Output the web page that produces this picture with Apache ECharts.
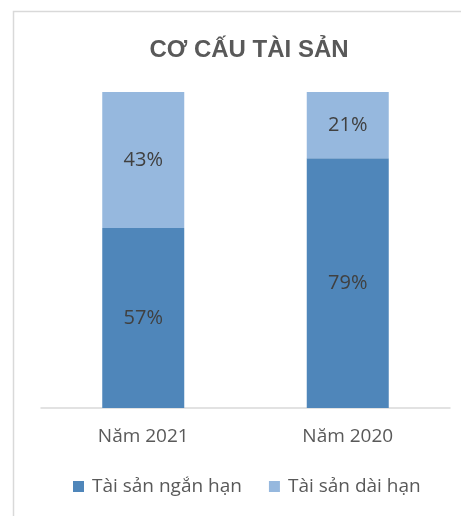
<!DOCTYPE html>
<html><head><meta charset="utf-8">
<script src="https://cdn.jsdelivr.net/npm/echarts@6/dist/echarts.min.js"></script>
<style>html,body{margin:0;padding:0;background:#fff}#c{width:461px;height:516px}</style>
</head><body><div id="c"></div>
<script>
const categories = ['Năm 2021', 'Năm 2020'];
const shortTerm = [57, 79];
const longTerm = [43, 21];
const seriesNames = ['Tài sản ngắn hạn', 'Tài sản dài hạn'];
const FONT = '"Open Sans", "Noto Sans", sans-serif';
const chart = echarts.init(document.getElementById('c'), null, {renderer: 'canvas'});
chart.setOption({
  animation: false,
  graphic: [{type: 'rect', shape: {x: 13.5, y: 11.5, width: 600, height: 700}, style: {fill: 'none', stroke: '#d9d9d9', lineWidth: 1.5}, z: -1}],
  title: {text: 'CƠ CẤU TÀI SẢN', left: 244, top: 33, textAlign: 'center',
    textStyle: {fontFamily: '"Liberation Sans", Arial, sans-serif', fontSize: 24, fontWeight: 'bold', color: '#595959'}},
  grid: {left: 41, right: 11, top: 92, bottom: 108, containLabel: false},
  legend: {bottom: 15, left: 68, itemWidth: 11, itemHeight: 11, itemGap: 27, icon: 'rect',
    textStyle: {fontFamily: FONT, fontSize: 19, color: '#595959', padding: [0, 0, 0, 3]}, data: seriesNames},
  xAxis: {type: 'category', data: categories,
    axisLine: {lineStyle: {color: '#d9d9d9', width: 1.5}}, axisTick: {show: false},
    axisLabel: {fontFamily: FONT, fontSize: 19, color: '#595959', margin: 19}},
  yAxis: {type: 'value', min: 0, max: 100, show: false, splitLine: {show: false}},
  series: [
    {name: seriesNames[0], type: 'bar', stack: 's', data: shortTerm, barWidth: 82,
      itemStyle: {color: '#4F86BA'},
      label: {show: true, position: 'inside', formatter: '{c}%', fontFamily: FONT, fontSize: 20, color: '#404040'}},
    {name: seriesNames[1], type: 'bar', stack: 's', data: longTerm, barWidth: 82,
      itemStyle: {color: '#96B8DE'},
      label: {show: true, position: 'inside', formatter: '{c}%', fontFamily: FONT, fontSize: 20, color: '#404040'}}
  ]
});
</script></body></html>
